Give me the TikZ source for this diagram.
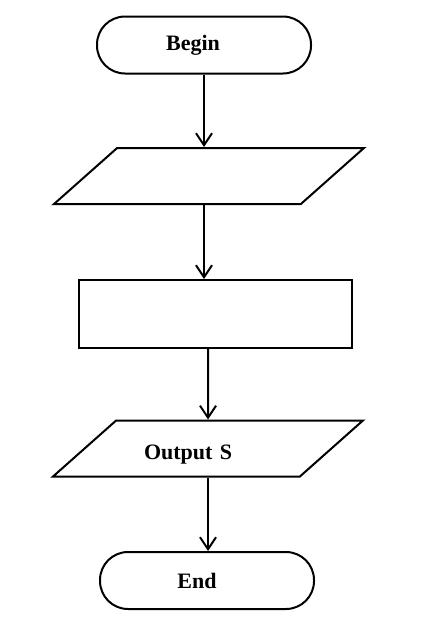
\documentclass[tikz,border=0pt]{standalone}
\usepackage{fontspec}
\setmainfont{Liberation Serif}
\usepackage{tikz}
\usetikzlibrary{shapes,arrows.meta,calc}

\begin{document}
\begin{tikzpicture}[x=0.5pt,y=-0.5pt]
  \tikzstyle{terminal}=[draw=black,line width=1pt,rounded corners=14pt,minimum width=107pt,minimum height=28.5pt,inner sep=0pt,font=\fontsize{11}{13}\selectfont\bfseries]
  \tikzstyle{io}=[trapezium,trapezium left angle=24.6,trapezium right angle=155.4,trapezium stretches=true,draw=black,line width=1pt,minimum width=155pt,minimum height=28pt,inner sep=0pt,text width=70pt,text height=8pt,text depth=3pt,align=left,font=\fontsize{11}{13}\selectfont\bfseries]
  \tikzstyle{process}=[rectangle,draw=black,line width=1pt,minimum width=136.5pt,minimum height=34pt,inner sep=0pt]
  \tikzstyle{flow}=[line width=1pt,-{Straight Barb[length=6pt,width=8pt]}]
  \useasboundingbox (0,0) rectangle (420,622);
  \draw (0,0) node (c){};

  \draw (c)++(204,45) node[terminal] (begin){Begin\hspace*{11pt}};
  \draw (c)++(209,176) node[io] (in1){};
  \draw (c)++(215.5,314) node[process] (calc){};
  \draw (c)++(208,448.5) node[io] (out){\hspace*{3pt}\raisebox{-3pt}{Output S}};
  \draw (c)++(207,580.5) node[terminal] (stop){End\hspace*{10pt}};

  \draw[flow] (begin.south) -- (begin.south |- in1.north);
  \draw[flow] (in1.south -| begin) -- (begin |- calc.north);
  \draw[flow] (calc.south -| out) -- (out.north);
  \draw[flow] (out.south) -- (out.south |- stop.north);
\end{tikzpicture}
\end{document}
